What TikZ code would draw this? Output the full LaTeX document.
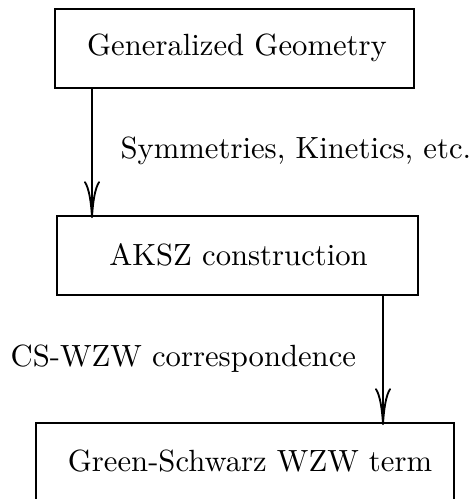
\documentclass[tikz,border=0pt]{standalone}
\usetikzlibrary{arrows.meta}
\begin{document}
\begin{tikzpicture}[x=0.326pt,y=-0.326pt,
  boxnode/.style={draw,line width=0.6pt,inner sep=0pt,anchor=north west},
  txt/.style={inner sep=0pt},
  conn/.style={line width=0.6pt,-{To[length=12pt,width=5.2pt]}}]
\useasboundingbox (0,0) rectangle (475,499);
\node[boxnode,minimum width=359*0.326pt,minimum height=79*0.326pt] (b1) at (54,8) {};
\node[boxnode,minimum width=361*0.326pt,minimum height=79*0.326pt] (b2) at (56,215) {};
\node[boxnode,minimum width=418*0.326pt,minimum height=79*0.326pt] (b3) at (35,422) {};
\node[txt] (t1) at (237,48) {Generalized Geometry};
\node[txt] (t2) at (238.5,255) {AKSZ construction};
\node[txt] (t3) at (250,461) {Green-Schwarz WZW term};
\coordinate (e1) at (92,218);
\coordinate (e2) at (383,425);
\draw[conn] (b1.south west -| e1) -- (e1);
\draw[conn] (b2.south west -| e2) -- (e2);
\node[txt,anchor=base west] (l1) at (120,158) {Symmetries, Kinetics, etc.};
\node[txt,anchor=base west] (l2) at (10,366) {CS-WZW correspondence};
\end{tikzpicture}
\end{document}
